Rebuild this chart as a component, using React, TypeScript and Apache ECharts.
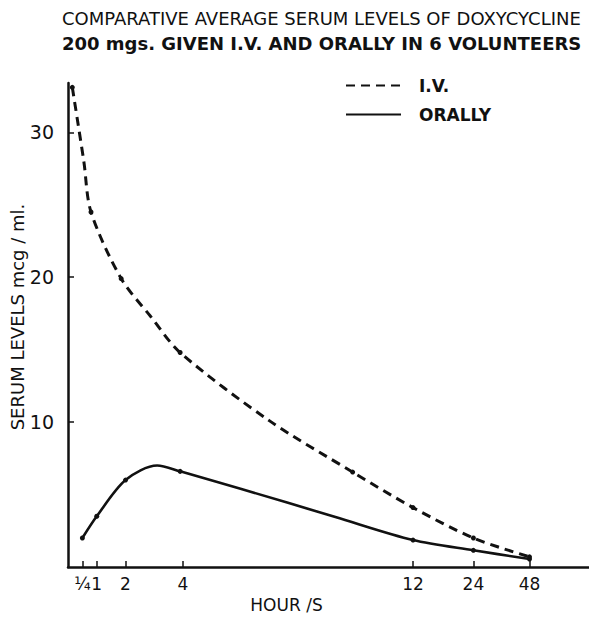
import React, { useEffect, useRef } from 'react';
import * as echarts from 'echarts';

const titleLine1 = 'COMPARATIVE AVERAGE SERUM LEVELS OF DOXYCYCLINE';
const titleLine2 = '200 mgs. GIVEN I.V. AND ORALLY IN 6 VOLUNTEERS';
const yAxisName = 'SERUM LEVELS mcg / ml.';
const xAxisName = 'HOUR /S';

// The hour axis is drawn as a broken scale: positions are in axis units
const hourTickLabels = ['¼', '1', '2', '4', '12', '24', '48'];
const hourTickPositions = [0.5, 1, 2, 4, 12, 14.1, 16.05];
const levelTicks = [10, 20, 30];

const ivPositions = [0.15, 0.55, 0.8, 1.85, 2.87, 3.9, 7.0, 9.9, 12, 14.1, 16.05];
const ivValues = [33.1, 28.0, 24.5, 19.9, 17.3, 14.8, 10.1, 6.55, 4.1, 2.0, 0.7];
const ivMarked = [true, false, true, true, false, true, false, true, true, true, true];

const oralPositions = [0.5, 1, 2, 3.1, 3.9, 6.0, 9.3, 12, 14.1, 16.05];
const oralValues = [2.0, 3.5, 6.0, 7.0, 6.6, 5.4, 3.45, 1.86, 1.15, 0.55];
const oralMarked = [true, true, true, false, true, false, false, true, true, true];

const FONT = 'DejaVu Sans';

function build(pos: number[], vals: number[], marked: boolean[]) {
  return pos.map((p, i) => ({ value: [p, vals[i]], symbolSize: marked[i] ? 5 : 0 }));
}

export default function App() {
  const ref = useRef<HTMLDivElement>(null);
  useEffect(() => {
    if (!ref.current) return;
    const chart = echarts.init(ref.current, undefined, { renderer: 'svg' });
    chart.setOption({
      animation: false,
      backgroundColor: '#ffffff',
      title: [
        {
          text: titleLine1,
          left: 57,
          top: 4,
          textStyle: { fontFamily: FONT, fontSize: 18, fontWeight: 'normal', color: '#111' },
        },
        {
          text: titleLine2,
          left: 57,
          top: 29,
          textStyle: { fontFamily: FONT, fontSize: 18, fontWeight: 'bold', color: '#111' },
        },
      ],
      legend: {
        orient: 'vertical',
        left: 340,
        top: 72,
        itemWidth: 55,
        itemHeight: 12,
        itemGap: 12,
        itemStyle: { opacity: 0 },
        textStyle: { fontFamily: FONT, fontSize: 17, fontWeight: 'bold', color: '#111', padding: [0, 0, 0, 13] },
        data: ['I.V.', 'ORALLY'],
      },
      grid: { left: 68, right: 0, top: 83, bottom: 53, containLabel: false, outerBoundsMode: 'none' },
      xAxis: {
        type: 'value',
        min: 0,
        max: 18.12,
        name: xAxisName,
        nameLocation: 'middle',
        nameGap: 29,
        nameMoveOverlap: false,
        nameTextStyle: { fontFamily: FONT, fontSize: 17, color: '#111', padding: [0, 84, 0, 0] },
        axisLine: { show: true, lineStyle: { color: '#111', width: 2.5 } },
        axisTick: { show: true, inside: true, length: 6, customValues: hourTickPositions, lineStyle: { color: '#111', width: 1.5 } },
        axisLabel: {
          customValues: hourTickPositions,
          formatter: (v: number) => {
            const i = hourTickPositions.findIndex((p) => Math.abs(p - v) < 1e-6);
            return i >= 0 ? hourTickLabels[i] : '';
          },
          margin: 8,
          fontFamily: FONT,
          fontSize: 17,
          color: '#111',
        },
        splitLine: { show: false },
      },
      yAxis: {
        type: 'value',
        min: 0,
        max: 33.4,
        name: yAxisName,
        nameLocation: 'middle',
        nameRotate: 90,
        nameGap: 42,
        nameMoveOverlap: false,
        nameTextStyle: { fontFamily: FONT, fontSize: 18, color: '#111', padding: [0, 0, 0, 16] },
        axisLine: { show: true, lineStyle: { color: '#111', width: 2.5 } },
        axisTick: { show: true, inside: true, length: 6, customValues: levelTicks, lineStyle: { color: '#111', width: 1.5 } },
        axisLabel: {
          customValues: levelTicks,
          margin: 14,
          fontFamily: FONT,
          fontSize: 19,
          color: '#111',
        },
        splitLine: { show: false },
      },
      series: [
        {
          name: 'I.V.',
          type: 'line',
          smooth: 0.3,
          symbol: 'circle',
          data: build(ivPositions, ivValues, ivMarked),
          lineStyle: { color: '#111', width: 3, type: [9, 6] },
          itemStyle: { color: '#111' },
        },
        {
          name: 'ORALLY',
          type: 'line',
          smooth: 0.3,
          symbol: 'circle',
          data: build(oralPositions, oralValues, oralMarked),
          lineStyle: { color: '#111', width: 2.6, type: 'solid' },
          itemStyle: { color: '#111' },
        },
      ],
    });
    return () => chart.dispose();
  }, []);
  return <div ref={ref} style={{ width: 589, height: 620, position: 'absolute', left: 0, top: 0 }} />;
}
